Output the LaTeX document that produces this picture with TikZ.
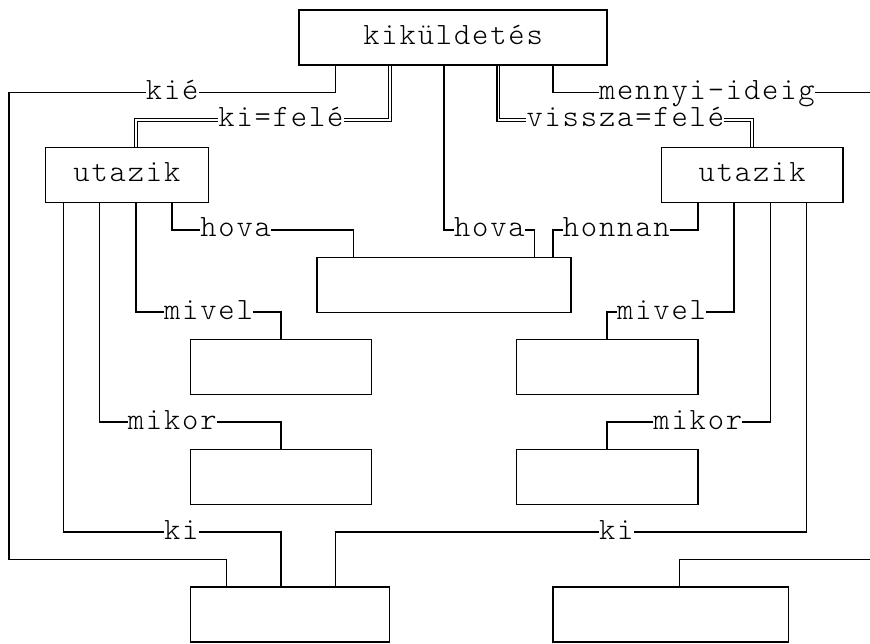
\documentclass[tikz,border=0pt]{standalone}
\usepackage{fontspec}
\usepackage{tikz}
\newfontfamily\artfont{lmmonolt10-regular.otf}[LetterSpace=6]

\begin{document}
\begin{tikzpicture}[x=18.125pt, y=-27.48pt, line join=miter,
  every node/.style={font=\artfont\fontsize{31}{31}\selectfont, inner sep=0pt,
    text height=14pt, text depth=0pt},
  doboz/.style={draw, line width=1.4pt, minimum height=54.96pt, minimum width=#1*18.125pt},
  ln/.style={line width=1.6pt},
  dbl/.style={line width=1.2pt, double, double distance=1.7pt}]
  \useasboundingbox (-0.5,-0.364) rectangle (47.5,23.07);
  \clip (-0.5,-0.364) rectangle (47.5,23.07);
  % dobozok
  \node[doboz=17] (kuld) at (24.5,1) {kiküldetés};
  \node[doboz=9]  (utL)  at (6.5,6)  {utazik};
  \node[doboz=10] (utR)  at (41,6)   {utazik};
  \node[doboz=14] (hovaB) at (24,10) {};
  \node[doboz=10] (mivL) at (15,13)  {};
  \node[doboz=10] (mivR) at (33,13)  {};
  \node[doboz=10] (mikL) at (15,17)  {};
  \node[doboz=10] (mikR) at (33,17)  {};
  \node[doboz=11] (kiB)  at (15.5,22) {};
  \node[doboz=13] (idB)  at (36.5,22) {};
  % cimkek
  \node (kie)    at (9,3)    {kié};
  \node (kifele) at (15,4)   {ki=felé};
  \node (menny)  at (38.5,3) {mennyi-ideig};
  \node (vissza) at (34,4)   {vissza=felé};
  \node (hovaL)  at (12.5,8) {hova};
  \node (hovaM)  at (26.5,8) {hova};
  \node (honnan) at (33.5,8) {honnan};
  \node (mivelL) at (11,11)  {mivel};
  \node (mivelR) at (36,11)  {mivel};
  \node (mikorL) at (9,15)   {mikor};
  \node (mikorR) at (38,15)  {mikor};
  \node (kiL)    at (9.5,19) {ki};
  \node (kiR)    at (33.5,19) {ki};
  % kikuldetes vonalai
  \draw[ln] (kuld.south -| 18,0) |- (kie.east);
  \draw[ln] (kie.west) -| (0,20) -| (kiB.north -| 12,0);
  \draw[dbl] (kuld.south -| 21,0) |- (kifele.east);
  \draw[dbl] (kifele.west) -| (utL.north -| 7,0);
  \draw[ln] (kuld.south -| 24,0) |- (hovaM.west);
  \draw[ln] (hovaM.east) -| (hovaB.north -| 29,0);
  \draw[dbl] (kuld.south -| 27,0) |- (vissza.west);
  \draw[dbl] (vissza.east) -| (utR.north -| 41,0);
  \draw[ln] (kuld.south -| 30,0) |- (menny.west);
  \draw[ln] (menny.east) -| (48,20) -| (idB.north -| 37,0);
  % bal utazik
  \draw[ln] (utL.south -| 9,0) |- (hovaL.west);
  \draw[ln] (hovaL.east) -| (hovaB.north -| 19,0);
  \draw[ln] (utL.south -| 7,0) |- (mivelL.west);
  \draw[ln] (mivelL.east) -| (mivL.north);
  \draw[ln] (utL.south -| 5,0) |- (mikorL.west);
  \draw[ln] (mikorL.east) -| (mikL.north);
  \draw[ln] (utL.south -| 3,0) |- (kiL.west);
  \draw[ln] (kiL.east) -| (kiB.north -| 15,0);
  % jobb utazik
  \draw[ln] (utR.south -| 38,0) |- (honnan.east);
  \draw[ln] (honnan.west) -| (hovaB.north -| 30,0);
  \draw[ln] (utR.south -| 40,0) |- (mivelR.east);
  \draw[ln] (mivelR.west) -| (mivR.north);
  \draw[ln] (utR.south -| 42,0) |- (mikorR.east);
  \draw[ln] (mikorR.west) -| (mikR.north);
  \draw[ln] (utR.south -| 44,0) |- (kiR.east);
  \draw[ln] (kiR.west) -| (kiB.north -| 18,0);
\end{tikzpicture}
\end{document}
